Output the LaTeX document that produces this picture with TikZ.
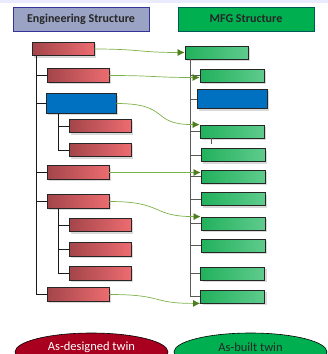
\documentclass[tikz,border=0pt]{standalone}
\usepackage{fontspec}
\setmainfont{Carlito}
\usetikzlibrary{arrows.meta,shadows,shapes.geometric}

\definecolor{redL}{HTML}{A3454A}
\definecolor{redR}{HTML}{EC6C70}
\definecolor{grnL}{HTML}{22B15C}
\definecolor{grnR}{HTML}{5FCB8D}
\definecolor{bluebox}{HTML}{0070C0}
\definecolor{hdrblue}{HTML}{9AA3C4}
\definecolor{hdrgreen}{HTML}{00B050}
\definecolor{linkline}{HTML}{7DB24A}
\definecolor{linktip}{HTML}{4E7D1C}
\definecolor{twinred}{HTML}{A8001E}

\tikzset{
  boxbase/.style={draw=black!85, line width=0.8pt, inner sep=0pt,
    drop shadow={opacity=0.3, shadow xshift=2pt, shadow yshift=-2pt}},
  ebox/.style={boxbase, left color=redL, right color=redR,
    minimum width=62pt, minimum height=13.5pt},
  mbox/.style={boxbase, left color=grnL, right color=grnR,
    minimum width=64pt, minimum height=13pt},
  bbox/.style={boxbase, fill=bluebox, minimum width=70pt, minimum height=19.5pt},
  header/.style={line width=0.9pt, minimum width=136pt, minimum height=24pt,
    inner sep=0pt, font=\bfseries\fontsize{12}{14}\selectfont, text=black!85},
  etree/.style={draw=black!90, line width=0.8pt},
  mtree/.style={draw=black!65, line width=1pt},
  link/.style={draw=linkline, line width=0.7pt,
    -{Latex[length=7pt, width=7pt, color=linktip]}},
  twin/.style={ellipse, draw=black, line width=0.6pt, minimum width=153pt,
    minimum height=38pt, inner sep=0pt},
  twintext/.style={font=\fontsize{12.5}{14}\selectfont, inner sep=0pt}
}

\begin{document}
\begin{tikzpicture}[x=1pt, y=-1pt]
  \useasboundingbox (0,0) rectangle (328,354);
  \fill[blue!8] (0,0) rectangle (328,2.5);

  % headers
  \node[header, draw=blue!50!black!80, fill=hdrblue] (eng) at (81,19) {Engineering Structure};
  \node[header, draw=teal!70!black, fill=hdrgreen] (mfg) at (246,19) {MFG Structure};

  % engineering structure
  \node[ebox] (e0) at (63,49) {};
  \node[ebox] (e1) at (78,75.5) {};
  \node[bbox] (e2) at (81,103.5) {};
  \node[ebox] (e21) at (100,126) {};
  \node[ebox] (e22) at (100,150) {};
  \node[ebox] (e3) at (78,172.5) {};
  \node[ebox] (e4) at (78,201.5) {};
  \node[ebox] (e41) at (100,225) {};
  \node[ebox] (e42) at (100,249.5) {};
  \node[ebox] (e43) at (100,273.5) {};
  \node[ebox] (e5) at (78,294.5) {};

  \coordinate (et) at ([xshift=5pt]e0.south west);
  \coordinate (et2) at ([xshift=13pt]e2.south west);
  \coordinate (et4) at ([xshift=12pt]e4.south west);
  \foreach \n in {e1,e2,e3,e4,e5} \draw[etree] (et) |- (\n.west);
  \foreach \n in {e21,e22} \draw[etree] (et2) |- (\n.west);
  \foreach \n in {e41,e42,e43} \draw[etree] (et4) |- (\n.west);

  % mfg structure
  \node[mbox, minimum width=63pt] (m0) at (216.5,52.5) {};
  \node[mbox] (m1) at (232,75.5) {};
  \node[bbox] (m2) at (232,99) {};
  \node[mbox] (m3) at (232,131.5) {};
  \node[mbox] (m4) at (233,155) {};
  \node[mbox] (m5) at (233,176.5) {};
  \node[mbox] (m6) at (233,199) {};
  \node[mbox] (m7) at (233,223.5) {};
  \node[mbox] (m8) at (233,245.5) {};
  \node[mbox] (m9) at (232.5,273.5) {};
  \node[mbox] (m10) at (232.5,296.5) {};

  \coordinate (mt) at ([xshift=6pt]m0.south west);
  \foreach \n in {m1,m2,m3,m4,m5,m6,m7,m8,m9,m10} \draw[mtree] (mt) |- (\n.west);
  \draw[mtree] ([xshift=12pt]m3.south west) -- ++(0,6);

  % links
  \draw[link] (e0.east) .. controls +(45,0) and +(-45,0) .. (m0.west);
  \draw[link] (e1.east) .. controls +(45,0) and +(-45,0) .. ([yshift=-2pt]m1.west);
  \draw[link] (e2.east) .. controls +(55,0) and +(-50,0) .. (m3.north west);
  \draw[link] (e3.east) .. controls +(45,0) and +(-45,0) .. ([yshift=4pt]m5.west);
  \draw[link] (e4.east) .. controls +(55,0) and +(-50,0) .. (m7.north west);
  \draw[link] (e5.east) .. controls +(55,0) and +(-50,0) .. (m10.south west);

  % twins
  \node[twin, fill=twinred] (dt) at (91.5,352) {};
  \node[twin, fill=hdrgreen] (bt) at (250.5,352) {};
  \node[twintext, text=white] (dtl) at (91.5,347.5) {As-designed twin};
  \node[twintext, text=black!85] (btl) at (250.5,347.5) {As-built twin};
\end{tikzpicture}
\end{document}
